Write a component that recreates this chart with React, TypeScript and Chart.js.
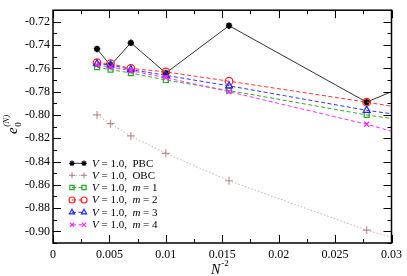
import React, { useEffect, useRef } from "react";
import { Chart, registerables } from "chart.js";
import { drawPoint } from "chart.js/helpers";
Chart.register(...registerables);

// N^-2 values for N = 16, 14, 12, 10, 8, 6
const xValues = [0.0039, 0.0051, 0.0069, 0.01, 0.0156, 0.0278];
const pbcValues = [-0.7433, -0.7575, -0.738, -0.764, -0.7233, -0.789];
const obcValues = [-0.8, -0.8075, -0.818, -0.833, -0.8565, -0.899];
const m1Values = [-0.759, -0.761, -0.764, -0.77, -0.779, -0.8];
const m2Values = [-0.755, -0.756, -0.76, -0.763, -0.771, -0.789];
const m3Values = [-0.756, -0.757, -0.761, -0.766, -0.775, -0.796];
const m4Values = [-0.757, -0.759, -0.762, -0.768, -0.78, -0.808];
// where each line leaves the plot at the right edge (x = 0.03)
const edgeX = 0.03;
const edgeValues = [-0.78, -0.905, -0.803, -0.7925, -0.799, -0.814];

const legendTags = ["PBC", "OBC", "m = 1", "m = 2", "m = 3", "m = 4"];
const xTicks = [0, 0.005, 0.01, 0.015, 0.02, 0.025, 0.03];
const yTicks = [-0.9, -0.88, -0.86, -0.84, -0.82, -0.8, -0.78, -0.76, -0.74, -0.72];
const xMinor = [0.0025, 0.0075, 0.0125, 0.0175, 0.0225, 0.0275];
const yMinor = [-0.91, -0.89, -0.87, -0.85, -0.83, -0.81, -0.79, -0.77, -0.75, -0.73, -0.71];

const SERIF = "'Liberation Serif', 'DejaVu Serif', serif";

const styles = [
  { color: "#000000", line: "#333333", pointStyle: "star", dash: [] as number[], fill: "#000000", radius: 3.2, bw: 1.8 },
  { color: "#bc8f8f", line: "#d4a8a8", pointStyle: "cross", dash: [1.5, 2], fill: "transparent", radius: 4, bw: 1.2 },
  { color: "#22a822", line: "#33aa33", pointStyle: "rect", dash: [4, 2.5], fill: "transparent", radius: 3.5, bw: 1.2 },
  { color: "#ff2222", line: "#ff3333", pointStyle: "circle", dash: [4, 2.5], fill: "transparent", radius: 3.8, bw: 1.2 },
  { color: "#2222ff", line: "#3333ff", pointStyle: "triangle", dash: [4, 2.5], fill: "transparent", radius: 4, bw: 1.2 },
  { color: "#ff22ff", line: "#ff33ff", pointStyle: "crossRot", dash: [4, 2.5], fill: "transparent", radius: 3.5, bw: 1.2 },
];

const seriesValues = [pbcValues, obcValues, m1Values, m2Values, m3Values, m4Values];

const decorPlugin = {
  id: "decor",
  afterDraw(chart: any) {
    const { ctx, chartArea: a, scales } = chart;
    const x = scales.x;
    const y = scales.y;
    ctx.save();
    ctx.strokeStyle = "#000";
    ctx.lineWidth = 1;
    ctx.setLineDash([]);
    const tick = (v: number, len: number) => {
      const px = Math.round(x.getPixelForValue(v)) + 0.5;
      ctx.beginPath();
      ctx.moveTo(px, a.bottom);
      ctx.lineTo(px, a.bottom - len);
      ctx.moveTo(px, a.top);
      ctx.lineTo(px, a.top + len);
      ctx.stroke();
    };
    const ytick = (v: number, len: number) => {
      const py = Math.round(y.getPixelForValue(v)) + 0.5;
      ctx.beginPath();
      ctx.moveTo(a.left, py);
      ctx.lineTo(a.left + len, py);
      ctx.moveTo(a.right, py);
      ctx.lineTo(a.right - len, py);
      ctx.stroke();
    };
    xTicks.forEach((v) => tick(v, 8));
    xMinor.forEach((v) => tick(v, 4));
    yTicks.forEach((v) => ytick(v, 8));
    yMinor.forEach((v) => ytick(v, 4));
    ctx.lineWidth = 1.5;
    ctx.strokeRect(a.left, a.top, a.right - a.left, a.bottom - a.top);

    // legend
    const rows = [163.3, 175.3, 187.5, 200, 212.3, 224.8];
    ctx.textBaseline = "middle";
    rows.forEach((ry, i) => {
      const s = styles[i];
      ctx.strokeStyle = s.line;
      ctx.lineWidth = 1;
      ctx.setLineDash(s.dash);
      ctx.beginPath();
      ctx.moveTo(72, ry);
      ctx.lineTo(84, ry);
      ctx.stroke();
      ctx.setLineDash([]);
      ctx.strokeStyle = s.color;
      ctx.fillStyle = s.fill;
      ctx.lineWidth = 1.2;
      [72, 84].forEach((px) =>
        drawPoint(ctx, { pointStyle: s.pointStyle, rotation: 0, radius: i === 0 ? 2.8 : 3, borderWidth: 1.2 }, px, ry)
      );
      ctx.fillStyle = "#000";
      let tx = 92;
      const seg = (t: string, italic: boolean) => {
        ctx.font = (italic ? "italic " : "") + "11px " + SERIF;
        ctx.fillText(t, tx, ry + 0.5);
        tx += ctx.measureText(t).width;
      };
      seg("V", true);
      seg(" = 1.0,  ", false);
      const tag = legendTags[i];
      if (tag.startsWith("m")) {
        seg("m", true);
        seg(tag.slice(1), false);
      } else seg(tag, false);
    });

    // x title: N^-2
    ctx.fillStyle = "#000";
    ctx.textBaseline = "alphabetic";
    ctx.font = "italic 14px " + SERIF;
    ctx.fillText("N", 211, 274);
    const nw = ctx.measureText("N").width;
    ctx.font = "9px " + SERIF;
    ctx.fillText("-2", 211 + nw + 1, 266);

    // y title: e_0^(N)
    ctx.save();
    ctx.translate(17, 134);
    ctx.rotate(-Math.PI / 2);
    ctx.font = "italic 15px " + SERIF;
    ctx.fillText("e", 0, 0);
    const ew = ctx.measureText("e").width;
    ctx.font = "9px " + SERIF;
    ctx.fillText("0", ew + 0.5, 4);
    ctx.font = "italic 9px " + SERIF;
    ctx.fillText("(N)", ew + 0.5, -8);
    ctx.restore();
    ctx.restore();
  },
};

export default function App() {
  const ref = useRef<HTMLCanvasElement>(null);
  useEffect(() => {
    document.body.style.margin = "0";
    const datasets = seriesValues.map((vals, i) => {
      const s = styles[i];
      const data = xValues.map((xv, j) => ({ x: xv, y: vals[j] }));
      data.push({ x: edgeX, y: edgeValues[i] });
      return {
        label: legendTags[i],
        data,
        borderColor: s.line,
        borderWidth: 1,
        borderDash: s.dash,
        pointBorderColor: s.color,
        pointBackgroundColor: s.fill,
        pointBorderWidth: s.bw,
        pointStyle: s.pointStyle,
        pointRadius: data.map((_, j) => (j < xValues.length ? s.radius : 0)),
        showLine: true,
        fill: false,
        tension: 0,
        order: 6 - i,
      };
    });
    const chart = new Chart(ref.current as HTMLCanvasElement, {
      type: "scatter",
      data: { datasets: datasets as any },
      options: {
        animation: false,
        responsive: false,
        layout: { padding: { top: 1, right: 11, left: 0, bottom: 0 } },
        plugins: { legend: { display: false }, tooltip: { enabled: false } },
        scales: {
          x: {
            type: "linear",
            min: 0,
            max: 0.03,
            grid: { display: false, drawTicks: false },
            border: { display: false },
            afterBuildTicks: (s: any) => {
              s.ticks = xTicks.map((v) => ({ value: v }));
            },
            afterFit: (s: any) => {
              s.height = 33;
            },
            ticks: {
              padding: 5,
              color: "#000",
              font: { family: SERIF, size: 12 },
              callback: (v: any) => String(+Number(v).toFixed(4)),
            },
          },
          y: {
            type: "linear",
            min: -0.91,
            max: -0.71,
            grid: { display: false, drawTicks: false },
            border: { display: false },
            afterBuildTicks: (s: any) => {
              s.ticks = yTicks.map((v) => ({ value: v }));
            },
            afterFit: (s: any) => {
              s.width = 53;
            },
            ticks: {
              padding: 3,
              color: "#000",
              font: { family: SERIF, size: 12 },
              callback: (v: any) => Number(v).toFixed(2),
            },
          },
        },
      },
      plugins: [decorPlugin],
    });
    return () => chart.destroy();
  }, []);
  return (
    <div style={{ width: 407, height: 276 }}>
      <canvas ref={ref} width={407} height={276} style={{ display: "block" }} />
    </div>
  );
}
